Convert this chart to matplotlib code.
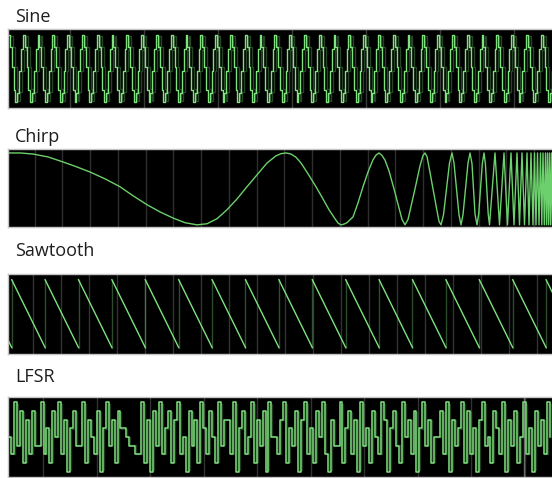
import matplotlib.pyplot as plt
import numpy as np

W, H = 552, 478
GREEN = '#7fe27f'

titles = ["Sine", "Chirp", "Sawtooth", "LFSR"]

# sine: one sampled period (levels -1..1), held until the next sample
sine_steps = [0.95, 0.62, 0.05, -0.6, -0.95, -0.7, -0.08, 0.55]
sine_period = 14.8
sine_start = 8.0
sine_cycles = 38

# chirp: slow start, read point by point (x in px, amplitude -1..1)
chirp_x = [8, 20, 33, 48, 63, 77, 90, 105, 120, 133, 147, 160, 173, 185, 197,
           207, 217, 227, 237, 247, 257, 267, 276, 281, 286, 291, 296, 301,
           308, 316, 323, 329, 335, 338, 341, 344, 347, 353, 358, 363, 368,
           373, 376, 379, 382, 385, 389, 394, 399, 402, 405, 408, 410, 415,
           420, 423, 425, 427, 429, 433, 437, 439, 441, 443.5, 446.5, 449.5,
           452, 454, 456.5, 459, 461, 463, 465.5, 468, 470, 472, 473.5, 475,
           477, 478.7, 480.5, 482.3, 484, 485.4, 486.8, 488.2, 489.5]
chirp_y = [1.0, 1.0, 0.97, 0.89, 0.75, 0.61, 0.47, 0.28, 0.06, -0.19, -0.44,
           -0.64, -0.81, -0.94, -1.0, -0.97, -0.83, -0.58, -0.28, 0.06, 0.39,
           0.72, 0.92, 0.98, 1.0, 0.97, 0.88, 0.72, 0.42, 0.06, -0.28, -0.58,
           -0.83, -0.95, -1.0, -0.98, -0.94, -0.78, -0.39, 0.06, 0.47, 0.81,
           0.94, 1.0, 0.93, 0.8, 0.5, 0.0, -0.53, -0.85, -1.0, -0.85, -0.61,
           0.0, 0.64, 0.93, 1.0, 0.9, 0.61, 0.0, -0.61, -0.9, -1.0, -0.72, 0.0,
           0.72, 1.0, 0.72, 0.0, -0.72, -1.0, -0.72, 0.0, 0.72, 1.0, 0.7, 0.0,
           -0.7, -1.0, -0.7, 0.0, 0.7, 1.0, 0.7, 0.0, -0.7, -1.0]
# chirp: fast end, x of alternating crests and troughs after the last trough
chirp_turns = [495, 499.5, 504, 507.5, 511, 514, 517, 519.5, 522, 524.5, 527,
               529, 531, 533, 534.5, 536, 537.5, 539, 540.5, 541.8, 543,
               544.3, 545.5, 546.5, 547.5, 548.5, 549.5, 550.5, 551.5, 552.5]

# sawtooth: rise positions and levels
saw_start = 11.7
saw_period = 33.4
saw_teeth = 17
saw_top, saw_bottom = 0.9, -0.88

# lfsr: held output levels, 0 = bottom .. 8 = top
lfsr_levels = [4, 2, 8, 3, 7, 1, 6, 2, 7, 3, 3, 8, 2, 5, 1, 7, 4,
               8, 2, 6, 0, 5, 7, 3, 3, 8, 1, 6, 4, 2, 7, 0, 5, 8,
               3, 6, 1, 7, 5, 5, 4, 3, 3, 2, 2, 8, 1, 6, 0, 7, 3,
               8, 2, 5, 7, 1, 6, 8, 2, 4, 0, 7, 3, 6, 1, 8, 5, 2,
               7, 4, 1, 8, 3, 6, 6, 2, 8, 0, 5, 7, 2, 4, 8, 1, 6,
               3, 7, 0, 8, 4, 4, 2, 6, 8, 1, 5, 3, 7, 0, 6, 8, 2,
               5, 1, 7, 4, 8, 2, 0, 6, 3, 3, 8, 1, 5, 7, 2, 6, 0,
               8, 3, 5, 1, 7, 4, 2, 8, 6, 0, 5, 7, 3, 1, 8, 4, 6,
               2, 7, 0, 5, 8, 3, 6, 1, 4, 4, 7, 2, 8, 0, 6, 3, 5,
               8, 1, 7, 2, 5, 0, 6, 8, 3, 4, 1, 7, 5, 2, 8, 0, 6,
               3, 7, 1, 4, 8, 2, 5, 0, 7, 3, 6, 2, 8, 4]
lfsr_step = 2.96

fig = plt.figure(figsize=(W / 100, H / 100), dpi=100)


def panel(top, bottom, ylim):
    ax = fig.add_axes([8 / W, 1 - bottom / H, (W - 8) / W, (bottom - top) / H])
    ax.set_facecolor('black')
    ax.set_xticks([])
    ax.set_yticks([])
    for s in ax.spines.values():
        s.set_color('#c4c4c4')
        s.set_linewidth(1)
    ax.spines['right'].set_visible(False)
    ax.set_xlim(8, W)
    ax.set_ylim(*ylim)
    return ax


def title(y, text):
    fig.text(15 / W, 1 - y / H, text, fontsize=13, family='Open Sans',
             color='#1e1e1e', va='baseline')


# --- sine ---
ax = panel(29, 108, (-1.12, 1.12))
for gx in np.arange(70, W, 74):
    ax.axvline(gx, color='#3a3a3a', lw=1)
n = len(sine_steps)
sx = sine_start + sine_period * np.arange(sine_cycles * n) / n
sy = np.tile(sine_steps, sine_cycles)
ax.step(sx + 3, sy * 0.97, where='post', color=GREEN, lw=1, alpha=0.3)
ax.step(sx, sy, where='post', color=GREEN, lw=1)
title(22, titles[0])

# --- chirp ---
ax = panel(149, 227, (-1.06, 1.11))
for gx in np.arange(34.5, W, 27.75):
    ax.axvline(gx, color='#2e2e2e', lw=1)
turn_y = [1.0 if i % 2 == 0 else -1.0 for i in range(len(chirp_turns))]
cx = list(chirp_x) + chirp_turns
cy = list(chirp_y) + turn_y
ax.plot(cx, cy, color='#6cd06c', lw=1)
title(142, titles[1])

# --- sawtooth ---
ax = panel(274, 354, (-1.05, 1.05))
for gx in np.arange(33, W, 28):
    ax.axvline(gx, color='#333333', lw=1)
rises = saw_start + saw_period * np.arange(saw_teeth)
ax.plot([8, saw_start], [saw_bottom + 0.2, saw_bottom], color=GREEN, lw=1)
for x0 in rises:
    ax.plot([x0, x0], [saw_bottom, saw_top], color=GREEN, lw=1, alpha=0.35)
    ax.plot([x0, x0 + saw_period], [saw_top, saw_bottom], color=GREEN, lw=1)
title(256, titles[2])

# --- lfsr ---
ax = panel(397, 477, (-0.6, 8.6))
for gx in np.arange(43, W, 53.5):
    ax.axvline(gx, color='#333333', lw=1)
ax.axvline(524, color='#6a6a6a', lw=1)
lx = 8 + lfsr_step * np.arange(len(lfsr_levels))
ax.step(lx + 1, np.array(lfsr_levels) * 0.95 + 0.2, where='post',
        color=GREEN, lw=1, alpha=0.25)
ax.step(lx, lfsr_levels, where='post', color=GREEN, lw=1.1)
title(382, titles[3])

fig.savefig('out.png', dpi=100)
